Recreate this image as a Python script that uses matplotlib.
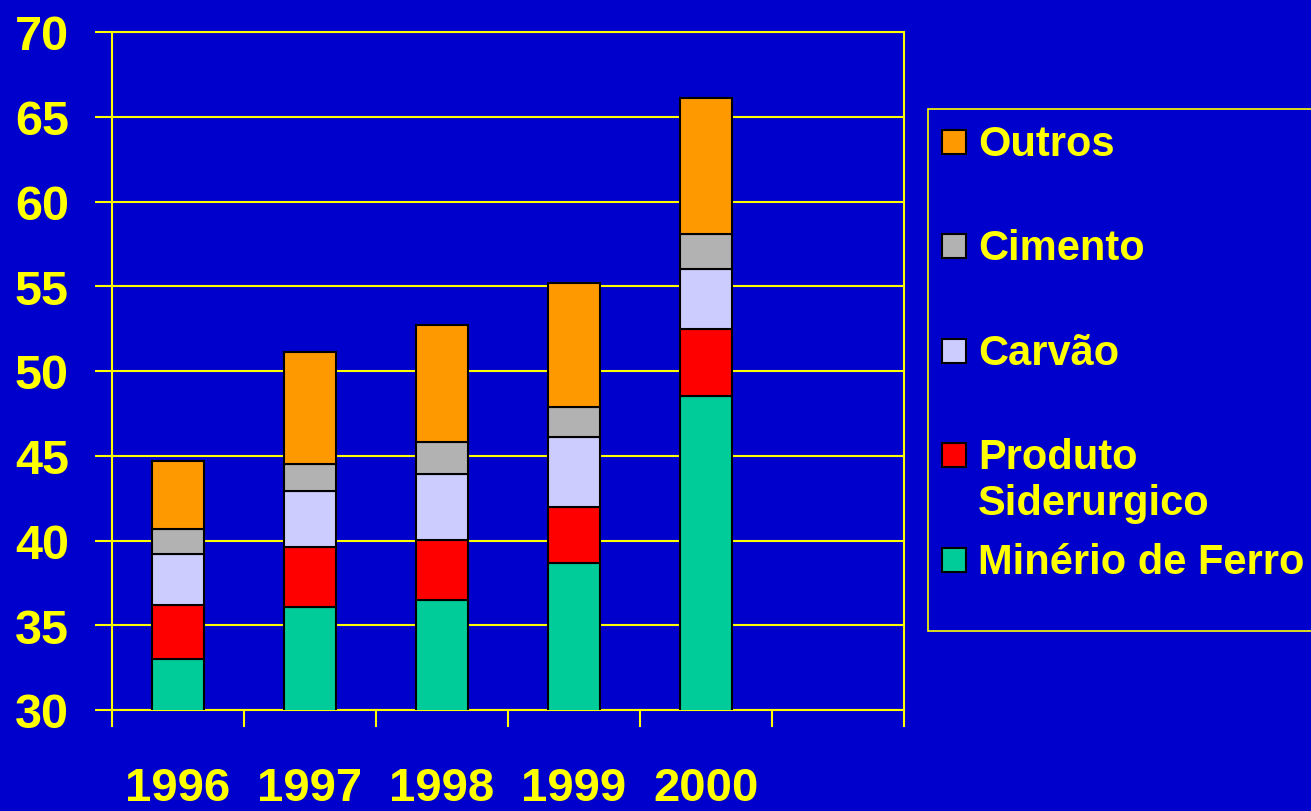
import numpy as np
import matplotlib
matplotlib.use('Agg')
from matplotlib import pyplot as plt
from matplotlib.patches import Rectangle

years = ["1996", "1997", "1998", "1999", "2000"]
minerio = [33.0, 36.1, 36.5, 38.7, 48.5]
produto = [3.2, 3.5, 3.5, 3.3, 4.0]
carvao = [3.0, 3.3, 3.9, 4.1, 3.5]
cimento = [1.5, 1.6, 1.9, 1.8, 2.1]
outros = [4.0, 6.6, 6.9, 7.3, 8.0]

series = [
    ("Minério de Ferro", minerio, "#00CC99"),
    ("Produto\nSiderurgico", produto, "#FF0000"),
    ("Carvão", carvao, "#CCCCFF"),
    ("Cimento", cimento, "#B2B2B2"),
    ("Outros", outros, "#FF9900"),
]

bg = "#0000CC"
yellow = "#FFFF00"
plt.rcParams['font.family'] = ['Liberation Sans', 'DejaVu Sans']
plt.rcParams['font.weight'] = 'bold'

fig = plt.figure(figsize=(13.11, 8.12), dpi=100, facecolor=bg)
ax = fig.add_axes([112/1311, 101/812, 792/1311, 678/812])
ax.set_facecolor(bg)

x = np.arange(len(years))
bottom = np.zeros(len(years))
for name, vals, col in series:
    ax.bar(x, vals, width=0.4, bottom=bottom, color=col, edgecolor="black",
           linewidth=1.5, zorder=3)
    bottom += np.array(vals)

ax.set_xlim(-0.5, 5.5)
ax.set_ylim(30, 70)
ax.set_yticks(np.arange(30, 71, 5))
ax.yaxis.grid(True, color=yellow, linewidth=1.5, zorder=0)
ax.set_axisbelow(True)

ax.set_xticks(x)
ax.set_xticklabels(years)
ax.set_xticks(np.arange(-0.5, 5.6, 1), minor=True)
ax.tick_params(axis='x', which='major', length=0, pad=40, labelsize=34, labelcolor=yellow)
ax.tick_params(axis='x', which='minor', length=12, width=1.5, color=yellow)
ax.tick_params(axis='y', length=12, width=1.5, color=yellow, pad=19, labelsize=35, labelcolor=yellow)
for s in ax.spines.values():
    s.set_color(yellow)
    s.set_linewidth(1.5)

# legend
W, H = 1311, 812
fig.patches.append(Rectangle((928/W, (H-632)/H), 400/W, 522/H, transform=fig.transFigure,
                             facecolor=bg, edgecolor=yellow, linewidth=1.2))
leg_y = {"Outros": 143, "Cimento": 247, "Carvão": 352, "Produto\nSiderurgico": 456,
         "Minério de Ferro": 561}
for name, vals, col in series:
    yc = leg_y[name]
    fig.patches.append(Rectangle((942/W, (H-yc-12)/H), 24/W, 24/H, transform=fig.transFigure,
                                 facecolor=col, edgecolor="black", linewidth=1.5))
    fig.text(978/W, (H-yc+18)/H, name, color=yellow, fontsize=30, fontweight='bold',
             va='top', ha='left', linespacing=1.2)

fig.savefig("out.png", dpi=100, facecolor=bg)
